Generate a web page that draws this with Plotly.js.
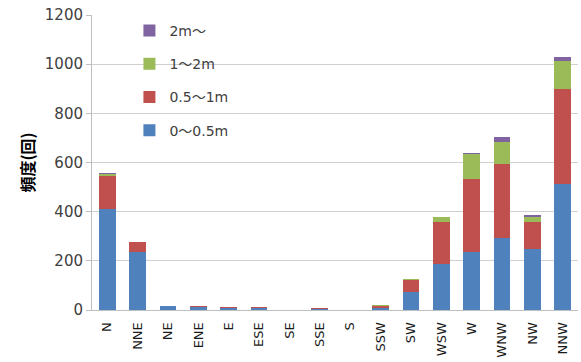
<!DOCTYPE html>
<html><head><meta charset="utf-8">
<script src="https://cdn.plot.ly/plotly-3.0.1.min.js"></script>
<style>html,body{margin:0;padding:0;background:#fff}#c{width:581px;height:362px}</style>
</head><body><div id="c"></div>
<script>
const categories = ["N","NNE","NE","ENE","E","ESE","SE","SSE","S","SSW","SW","WSW","W","WNW","NW","NNW"];
const s0_05 = [412,234,16,12,9,9,0,4,0,8,74,188,234,294,250,512];
const s05_1 = [135,41,0,4,3,4,0,5,0,8,48,172,298,298,106,385];
const s1_2  = [8,3,0,0,0,0,0,0,0,4,4,20,103,93,24,116];
const s2p   = [1,0,0,0,0,0,0,0,0,0,0,0,4,17,5,15];
const seriesNames = ["0〜0.5m","0.5〜1m","1〜2m","2m〜"];
const colors = ["#4F81BD","#C0504D","#9BBB59","#8064A2"];
const yTicks = [0,200,400,600,800,1000,1200];

const vals = [s0_05,s05_1,s1_2,s2p];
const traces = vals.map((v,i)=>({
  type:'bar', x:categories, y:v, name:seriesNames[i], legendgroup:'g'+i, legendrank:4-i,
  marker:{color:colors[i], line:{width:0}}, width:0.55
}));
const layout = {
  width:581, height:362, barmode:'stack',
  margin:{l:92,r:3,t:15,b:52},
  paper_bgcolor:'#fff', plot_bgcolor:'#fff',
  font:{family:'"DejaVu Sans", "Noto Sans CJK JP", sans-serif', color:'#404040', size:14},
  xaxis:{type:'category', range:[-0.5,15.5], tickangle:-90, showgrid:false,
    showline:true, linecolor:'#BFBFBF', linewidth:1, ticks:'', tickfont:{size:13, color:'#1a1a1a'}, ticklabelstandoff:6},
  yaxis:{range:[0,1200], tickvals:yTicks, showgrid:true, gridcolor:'#D0D0D0', gridwidth:1,
    showline:true, linecolor:'#BFBFBF', linewidth:1, ticks:'outside', ticklen:5, tickcolor:'#BFBFBF',
    zeroline:false, tickfont:{size:15, color:'#404040'},
    title:{text:'<b>頻度(回)</b>', font:{family:'"Noto Sans CJK JP", sans-serif', size:16,color:'#000'}, standoff:6}},
  legend:{x:0.077, y:1.0, xanchor:'left', yanchor:'top', bgcolor:'rgba(0,0,0,0)',
    traceorder:'grouped', tracegroupgap:12, font:{size:14,color:'#404040'}},
  showlegend:true
};
Plotly.newPlot('c', traces, layout, {displayModeBar:false, staticPlot:true});
</script></body></html>
